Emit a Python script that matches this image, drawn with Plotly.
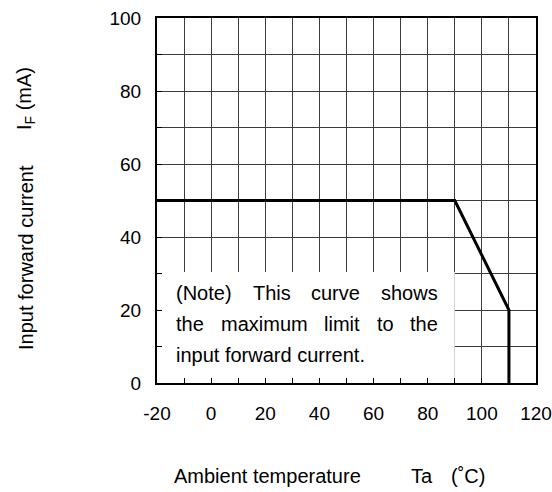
import plotly.graph_objects as go

# ---- data ----
temperature = [-20, 90, 110, 110]
forward_current = [50, 50, 20, 0]

x_tickvals = [-20, 0, 20, 40, 60, 80, 100, 120]
x_ticktext = ["-20", "0", "20", "40", "60", "80", "100", "120"]
y_tickvals = [0, 20, 40, 60, 80, 100]
y_ticktext = ["0", "20", "40", "60", "80", "100"]
minor_step = 10

note_lines = [
    ["(Note)", "This", "curve", "shows"],
    ["the", "maximum", "limit", "to", "the"],
    ["input forward current."],
]
note_justified = [True, True, False]

# ---- layout geometry (page pixels) ----
W, H = 552, 492
L, R, T, B = 157, 536, 18, 383   # plot area
FONT = "Liberation Sans, Arial, sans-serif"
NOTE_SIZE = 20
PAD = 3  # annotation inner padding

# Arial advance widths (1/1000 em) for justification
ARIAL = {"(": 333, ")": 333, "N": 722, "o": 556, "t": 278, "e": 556, "T": 611,
         "h": 556, "i": 222, "s": 500, "c": 500, "u": 556, "r": 333, "v": 500,
         "w": 722, "m": 833, "a": 556, "x": 500, "l": 222, "p": 556, "f": 278,
         "d": 556, ".": 278, " ": 278, "n": 556}


def text_w(s, size):
    return sum(ARIAL.get(ch, 556) for ch in s) * size / 1000.0


def px(x):
    return (x - L) / (R - L)


def py(y):
    return (B - y) / (B - T)


fig = go.Figure()
fig.add_trace(go.Scatter(
    x=temperature, y=forward_current, mode="lines",
    line=dict(color="black", width=3), hoverinfo="skip", showlegend=False,
))

grid_col = "#3c3c3c"
axis_common = dict(
    showgrid=True, gridcolor=grid_col, gridwidth=1,
    showline=True, linecolor="black", linewidth=2, mirror=True,
    ticks="inside", ticklen=5, tickwidth=1, tickcolor="black",
    zeroline=False, tickfont=dict(family=FONT, size=19, color="black"),
    fixedrange=True, automargin=False, ticklabeloverflow="allow",
    minor=dict(dtick=minor_step, ticks="inside", ticklen=5, tickwidth=1,
               tickcolor="black", showgrid=True, gridcolor=grid_col, gridwidth=1),
)

fig.update_xaxes(range=[-20, 120], tickmode="array", tickvals=x_tickvals,
                 ticktext=x_ticktext, ticklabelstandoff=12, **axis_common)
fig.update_yaxes(range=[0, 100], tickmode="array", tickvals=y_tickvals,
                 ticktext=y_ticktext, ticklabelstandoff=10, **axis_common)
fig.update_xaxes(minor_tick0=-20)
fig.update_yaxes(minor_tick0=0)

# white note box covering the grid
fig.add_shape(type="rect", xref="x", yref="y", x0=-20, x1=90, y0=0, y1=30.4,
              fillcolor="white", line=dict(width=0), layer="between")

# justified note text
TEXT_LEFT, TEXT_RIGHT = 177, 439
line_y = [293, 324, 355]
for words, just, yy in zip(note_lines, note_justified, line_y):
    widths = [text_w(w, NOTE_SIZE) for w in words]
    if just and len(words) > 1:
        gap = (TEXT_RIGHT - TEXT_LEFT - sum(widths)) / (len(words) - 1)
    else:
        gap = text_w(" ", NOTE_SIZE)
    xpos = TEXT_LEFT
    for w, wd in zip(words, widths):
        fig.add_annotation(x=px(xpos - PAD), y=py(yy), xref="paper", yref="paper",
                           text=w, showarrow=False, xanchor="left", yanchor="middle",
                           font=dict(family=FONT, size=NOTE_SIZE, color="black"))
        xpos += wd + gap

# x-axis title
x_title_parts = [("Ambient temperature", 175), ("Ta", 412), ("(˚C)", 452)]
for t, xx in x_title_parts:
    fig.add_annotation(x=px(xx - PAD), y=py(476), xref="paper", yref="paper",
                       text=t, showarrow=False, xanchor="left", yanchor="middle",
                       font=dict(family=FONT, size=20, color="black"))

# y-axis title
y_title_parts = [("Input forward current", 258), ("I<sub>F</sub> (mA)", 99)]
for t, yy in y_title_parts:
    fig.add_annotation(x=px(26), y=py(yy), xref="paper", yref="paper",
                       text=t, showarrow=False, textangle=-90,
                       xanchor="center", yanchor="middle",
                       font=dict(family=FONT, size=20, color="black"))

fig.update_layout(
    template="none",
    width=W, height=H,
    margin=dict(l=L, r=W - R, t=T, b=H - B, pad=0, autoexpand=False),
    paper_bgcolor="white", plot_bgcolor="white",
    showlegend=False,
)

fig.write_html("out.html", config={"displayModeBar": False},
               post_script="document.body.style.margin='0';")
